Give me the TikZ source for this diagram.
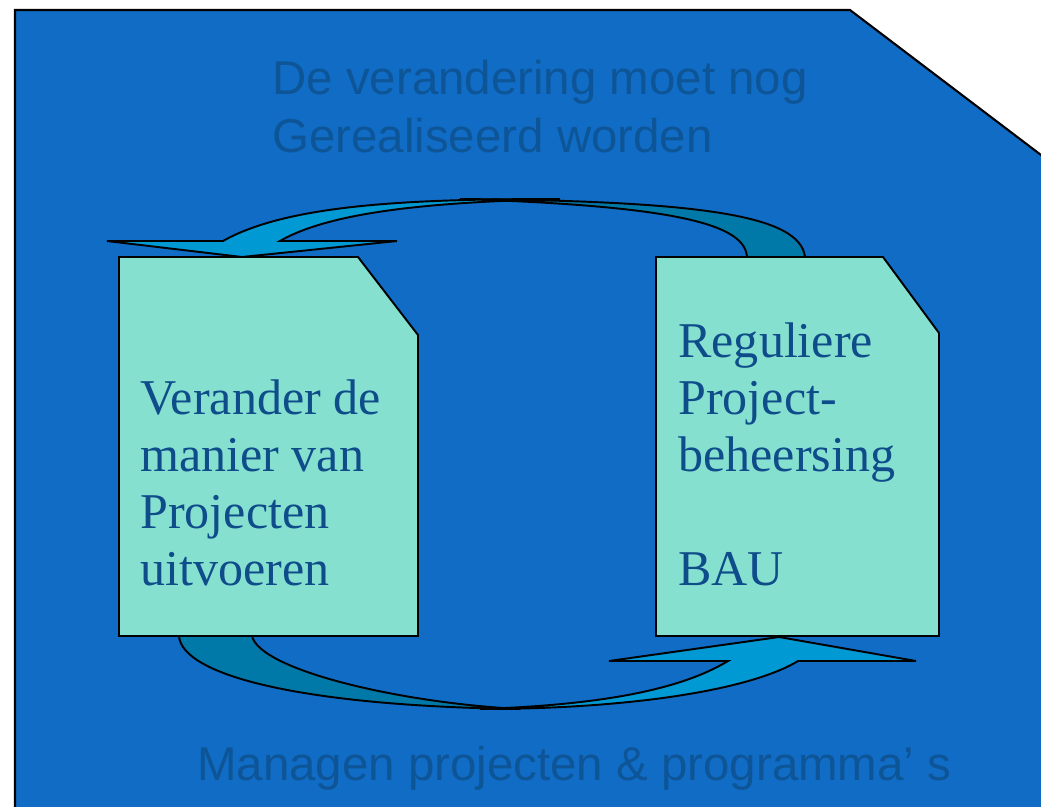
\documentclass[tikz,border=0pt]{standalone}
\usepackage{fontspec}
\setmainfont{Liberation Serif}
\newfontfamily\kopfont{Liberation Sans}
\usetikzlibrary{arrows,calc,positioning}
\definecolor{achtergrond}{RGB}{16,108,196}
\definecolor{bladkleur}{RGB}{134,224,208}
\definecolor{pijllicht}{RGB}{0,153,212}
\definecolor{pijldonker}{RGB}{0,121,169}
\definecolor{koptekst}{RGB}{14,85,151}
\definecolor{bladtekst}{RGB}{14,76,138}
\tikzstyle{bladvorm}=[draw,fill=bladkleur,line width=1.1pt]
\tikzstyle{pijlvoor}=[draw,fill=pijllicht,line width=1.1pt]
\tikzstyle{pijlachter}=[draw,fill=pijldonker,line width=1.1pt]
\tikzstyle{kop}=[anchor=base west,inner sep=0pt,align=left,text=koptekst,font=\kopfont\fontsize{27}{33}\selectfont]
\tikzstyle{bladtxt}=[anchor=base west,inner sep=0pt,align=left,text=bladtekst,font=\fontsize{28.5}{32.4}\selectfont]

\begin{document}
\begin{tikzpicture}[x=0.02cm,y=-0.02cm]
    \useasboundingbox (0,0) rectangle (1041,806);
    \fill[white] (0,0) rectangle (1041,806);
    \begin{scope}
      \clip (0,0) rectangle (1041,806);
      \draw[fill=achtergrond,line width=1.2pt] (15,830) -- (15,10) -- (850,10) -- (1070,177) -- (1070,830) -- cycle;
    \end{scope}

    % bovenste pijl
    \draw[pijlachter] (805,257) .. controls (800,215) and (700,201) .. (460,199) .. controls (680,206) and (745,225) .. (747,257) -- cycle;
    \draw[pijlvoor] (223,241) .. controls (290,203) and (420,199) .. (560,199) .. controls (430,202) and (330,212) .. (280,241) -- (397,241) -- (242,257) -- (107,241) -- cycle;
    % onderste pijl
    \draw[pijlachter] (179,636) .. controls (182,675) and (300,706) .. (520,709) .. controls (400,703) and (260,670) .. (252,636) -- cycle;
    \draw[pijlvoor] (480,709) .. controls (630,709) and (750,690) .. (798,661) -- (916,661) -- (779,637) -- (609,661) -- (728,661) .. controls (680,690) and (600,705) .. (480,709) -- cycle;

    % bladen
    \draw[bladvorm] (119,257) -- (358,257) -- (418,335) -- (418,636) -- (119,636) -- cycle;
    \draw[bladvorm] (656,257) -- (883,257) -- (939,333) -- (939,636) -- (656,636) -- cycle;

    % base = laatste regel
    \node[kop] (verandering) at (272,152) {De verandering moet nog\\Gerealiseerd worden};
    \node[kop] (managen) at (197,780) {Managen projecten \& programma’ s};
    \node[bladtxt] (uitvoeren) at (140,585) {Verander de\\manier van\\Projecten\\uitvoeren};
    \node[bladtxt] (beheersing) at (678,585) {Reguliere\\Project-\\beheersing\\\mbox{}\\BAU};
\end{tikzpicture}
\end{document}
